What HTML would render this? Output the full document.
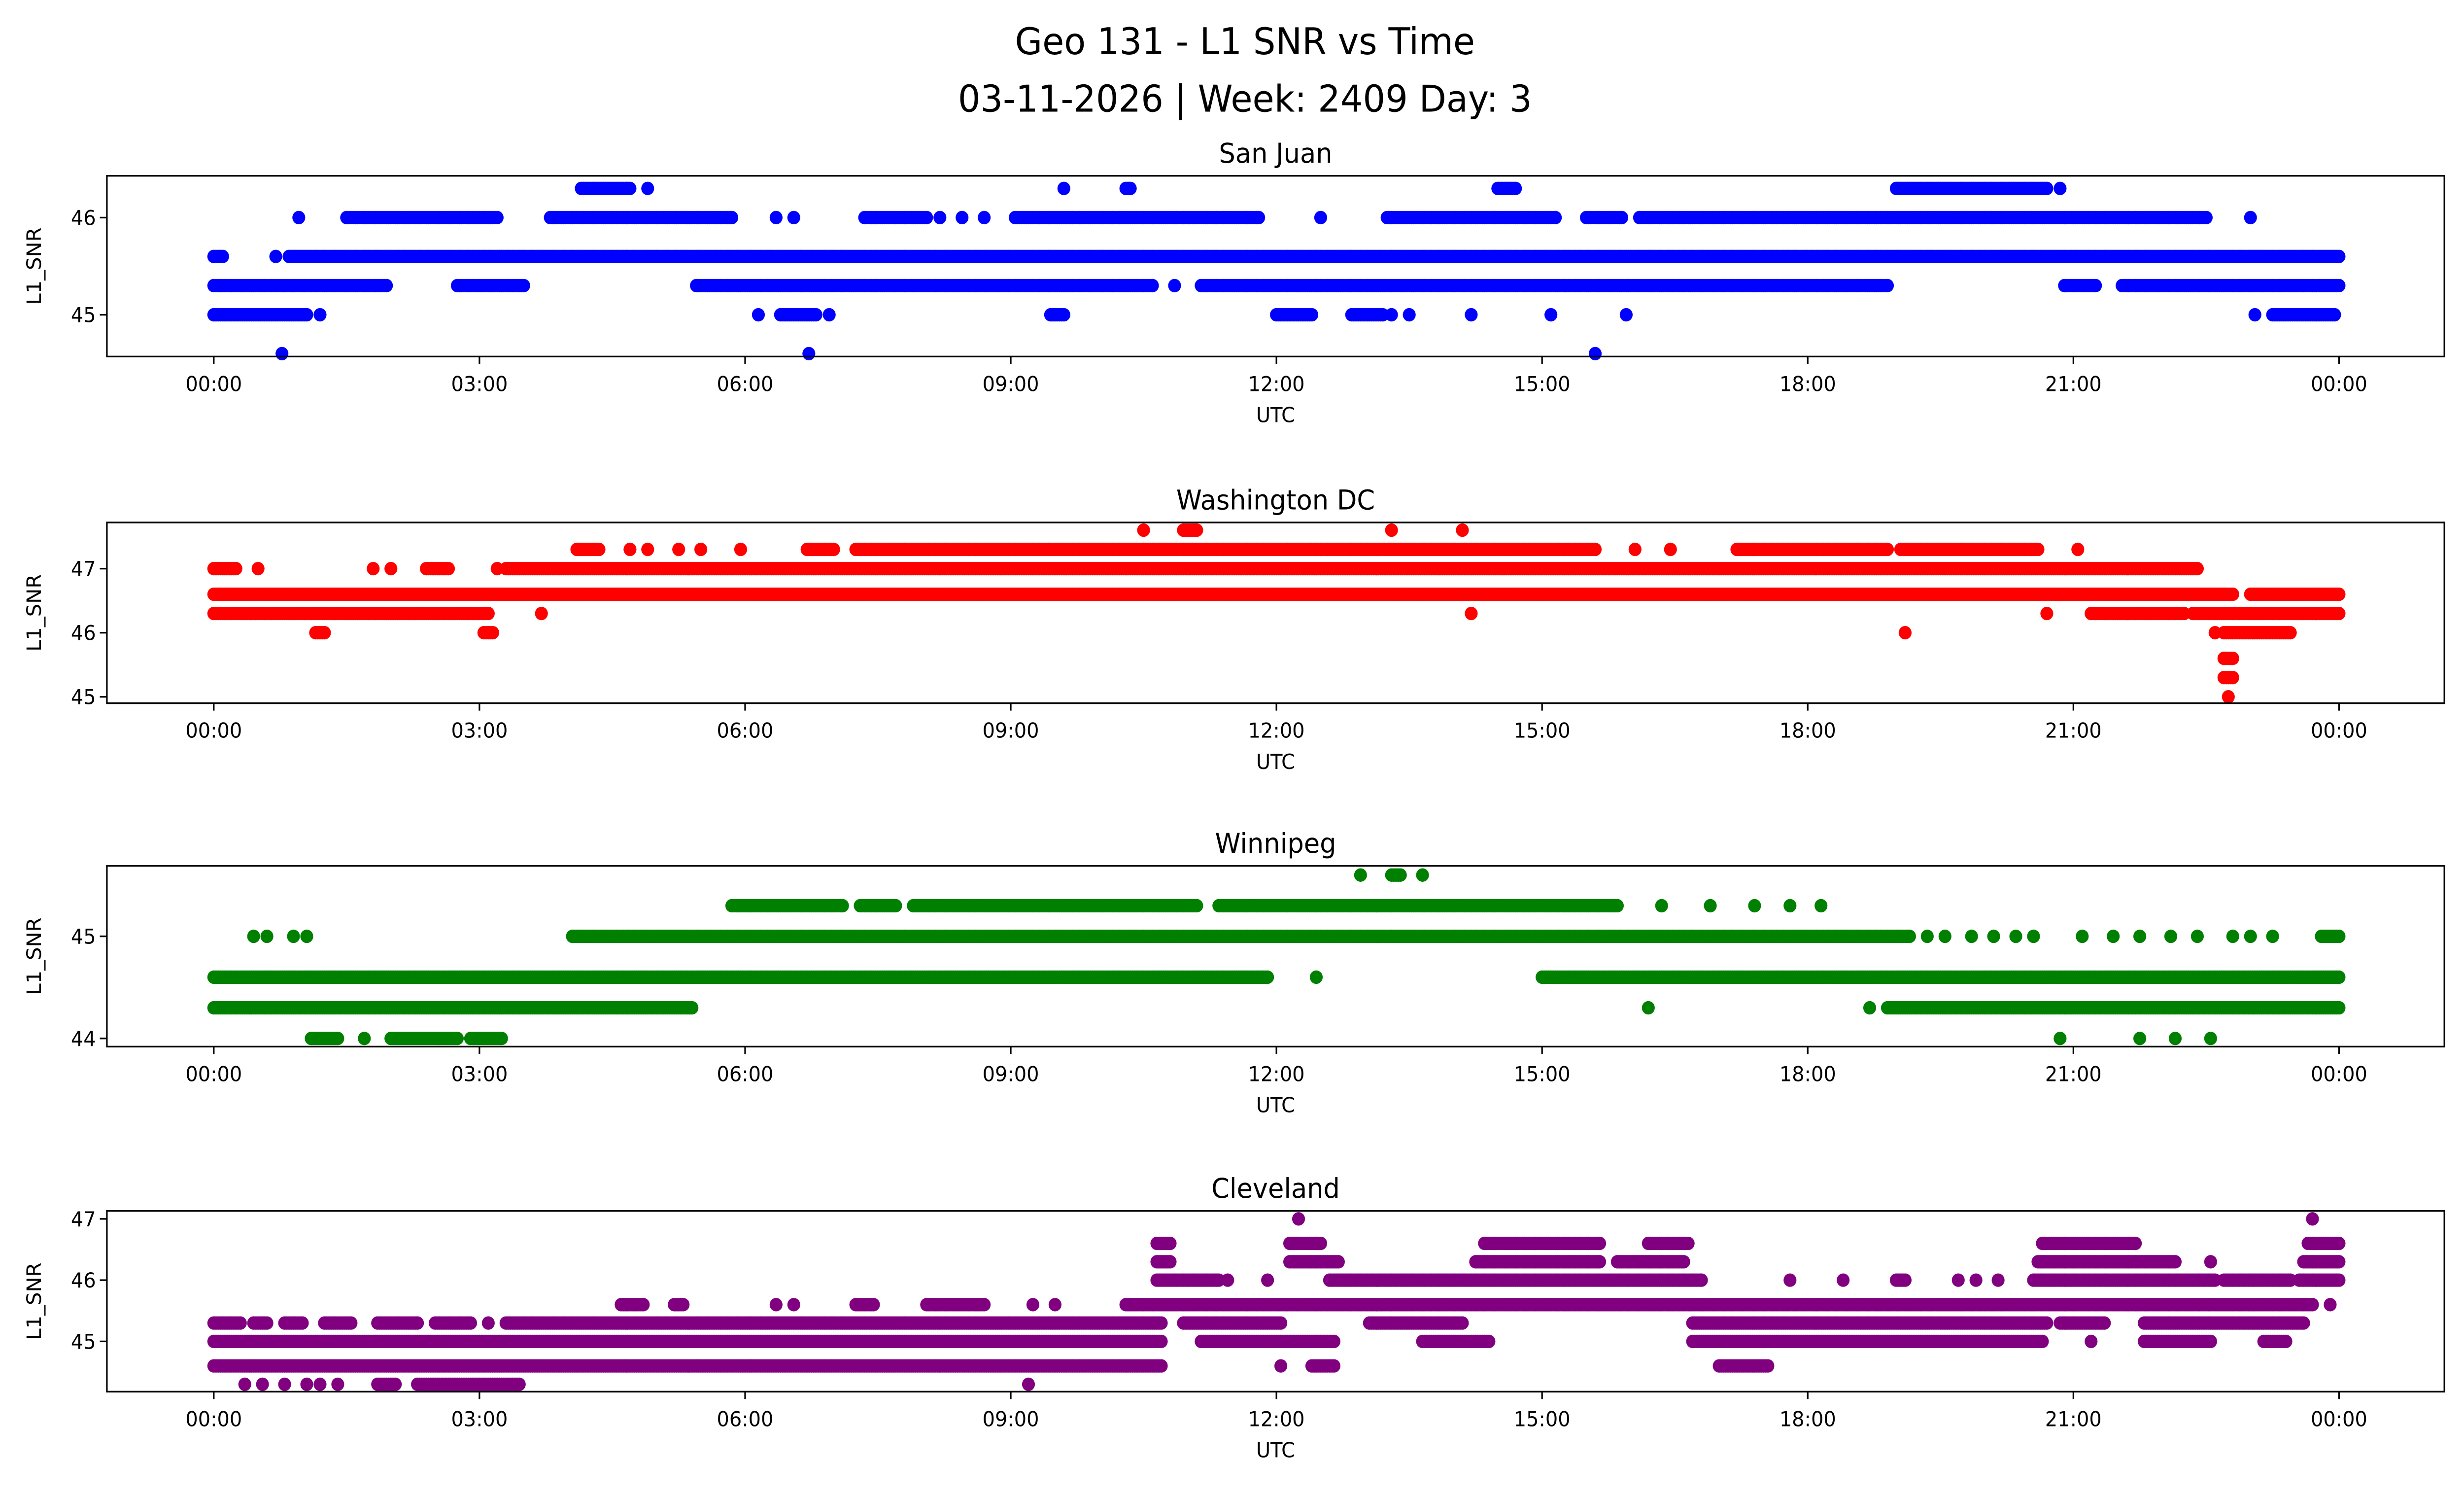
<!DOCTYPE html>
<html><head><meta charset="utf-8"><style>html,body{margin:0;padding:0;background:#fff;overflow:hidden;width:100%;height:100%}svg{display:block;position:absolute;left:0;top:0;width:100vw;height:100vh}</style></head>
<body>
<svg id="chart" xmlns="http://www.w3.org/2000/svg" viewBox="0 0 1567.5 909.9" preserveAspectRatio="none" font-family="'DejaVu Sans','Liberation Sans',sans-serif">
<rect width="1567.5" height="909.9" fill="#fff"/>
<text x="792" y="33" font-size="22.5" text-anchor="middle">Geo 131 - L1 SNR vs Time</text>
<text x="792" y="68" font-size="22.5" text-anchor="middle">03-11-2026 | Week: 2409 Day: 3</text>
</svg>
<script>
const xTickLabels = ["00:00","03:00","06:00","09:00","12:00","15:00","18:00","21:00","00:00"];
const xTickHours = [0,3,6,9,12,15,18,21,24];
const panelNames = ["San Juan","Washington DC","Winnipeg","Cleveland"];
const panelColors = ["#0000ff","#ff0000","#008000","#800080"];
const sjLevels = [46.3,46.0,45.6,45.3,45.0,44.6];
const sjRanges = [
 [[4.15,4.7],[4.9,4.9],[9.6,9.6],[10.3,10.35],[14.5,14.7],[19.0,20.7],[20.85,20.85]],
 [[0.96,0.96],[1.5,3.2],[3.8,5.85],[6.35,6.35],[6.55,6.55],[7.35,8.05],[8.2,8.2],[8.45,8.45],[8.7,8.7],[9.05,11.8],[12.5,12.5],[13.25,15.15],[15.5,15.9],[16.1,22.5],[23.0,23.0]],
 [[0,0.1],[0.7,0.7],[0.85,24]],
 [[0,1.95],[2.75,3.5],[5.45,10.6],[10.85,10.85],[11.15,18.9],[20.9,21.25],[21.55,24]],
 [[0,1.05],[1.2,1.2],[6.15,6.15],[6.4,6.8],[6.95,6.95],[9.45,9.6],[12.0,12.4],[12.85,13.2],[13.3,13.3],[13.5,13.5],[14.2,14.2],[15.1,15.1],[15.95,15.95],[23.05,23.05],[23.25,23.95]],
 [[0.77,0.77],[6.72,6.72],[15.6,15.6]]
];
const dcLevels = [47.6,47.3,47.0,46.6,46.3,46.0,45.6,45.3,45.0];
const dcRanges = [
 [[10.5,10.5],[10.95,11.1],[13.3,13.3],[14.1,14.1]],
 [[4.1,4.35],[4.7,4.7],[4.9,4.9],[5.25,5.25],[5.5,5.5],[5.95,5.95],[6.7,7.0],[7.25,15.6],[16.05,16.05],[16.45,16.45],[17.2,18.9],[19.05,20.6],[21.05,21.05]],
 [[0,0.25],[0.5,0.5],[1.8,1.8],[2.0,2.0],[2.4,2.65],[3.2,3.2],[3.3,22.4]],
 [[0,22.8],[23.0,24]],
 [[0,3.1],[3.7,3.7],[14.2,14.2],[20.7,20.7],[21.2,22.25],[22.35,24]],
 [[1.15,1.25],[3.05,3.15],[19.1,19.1],[22.6,22.6],[22.7,23.45]],
 [[22.7,22.8]],
 [[22.7,22.8]],
 [[22.75,22.75]]
];
const wpLevels = [45.6,45.3,45.0,44.6,44.3,44.0];
const wpRanges = [
 [[12.95,12.95],[13.3,13.4],[13.65,13.65]],
 [[5.85,7.1],[7.3,7.7],[7.9,11.1],[11.35,15.85],[16.35,16.35],[16.9,16.9],[17.4,17.4],[17.8,17.8],[18.15,18.15]],
 [[0.45,0.45],[0.6,0.6],[0.9,0.9],[1.05,1.05],[4.05,19.15],[19.35,19.35],[19.55,19.55],[19.85,19.85],[20.1,20.1],[20.35,20.35],[20.55,20.55],[21.1,21.1],[21.45,21.45],[21.75,21.75],[22.1,22.1],[22.4,22.4],[22.8,22.8],[23.0,23.0],[23.25,23.25],[23.8,24]],
 [[0,11.9],[12.45,12.45],[15.0,24]],
 [[0,5.4],[16.2,16.2],[18.7,18.7],[18.9,24]],
 [[1.1,1.4],[1.7,1.7],[2.0,2.75],[2.9,3.25],[20.85,20.85],[21.75,21.75],[22.15,22.15],[22.55,22.55]]
];
const clLevels = [47.0,46.6,46.3,46.0,45.6,45.3,45.0,44.6,44.3];
const clRanges = [
 [[12.25,12.25],[23.7,23.7]],
 [[10.65,10.8],[12.15,12.5],[14.35,15.65],[16.2,16.65],[20.65,21.7],[23.65,24]],
 [[10.65,10.8],[12.15,12.7],[14.25,15.65],[15.85,16.6],[20.6,22.15],[22.55,22.55],[23.6,24]],
 [[10.65,11.35],[11.45,11.45],[11.9,11.9],[12.6,16.8],[17.8,17.8],[18.4,18.4],[19.0,19.1],[19.7,19.7],[19.9,19.9],[20.15,20.15],[20.55,22.6],[22.7,23.45],[23.55,24]],
 [[4.6,4.85],[5.2,5.3],[6.35,6.35],[6.55,6.55],[7.25,7.45],[8.05,8.7],[9.25,9.25],[9.5,9.5],[10.3,23.7],[23.9,23.9]],
 [[0,0.3],[0.45,0.6],[0.8,1.0],[1.25,1.55],[1.85,2.3],[2.5,2.9],[3.1,3.1],[3.3,10.7],[10.95,12.05],[13.05,14.1],[16.7,20.7],[20.85,21.35],[21.8,23.6]],
 [[0,10.7],[11.15,12.65],[13.65,14.4],[16.7,20.65],[21.2,21.2],[21.8,22.55],[23.15,23.4]],
 [[0,10.7],[12.05,12.05],[12.4,12.65],[17.0,17.55]],
 [[0.35,0.35],[0.55,0.55],[0.8,0.8],[1.05,1.05],[1.2,1.2],[1.4,1.4],[1.85,2.05],[2.3,3.45],[9.2,9.2]]
];
const yTicks = [[45,46],[45,46,47],[44,45],[45,46,47]];
const yLims = [[44.57,46.43],[44.9,47.72],[43.92,45.69],[44.18,47.13]];
const allLevels = [sjLevels,dcLevels,wpLevels,clLevels];
const allRanges = [sjRanges,dcRanges,wpRanges,clRanges];

const NS = "http://www.w3.org/2000/svg";
const svg = document.getElementById('chart');
const L = 68, R = 1555, X0 = 136, X1 = 1488, H = 110;
const tops = [107,318,527,737];
function xScale(h){ return X0 + h*(X1-X0)/24; }
function mk(tag, attrs, parent){ const e=document.createElementNS(NS,tag); for(const k in attrs) e.setAttribute(k,attrs[k]); (parent||svg).appendChild(e); return e; }

for(let p=0;p<4;p++){
  const top=tops[p], bot=top+H, lim=yLims[p];
  const yScale = v => bot - (v-lim[0])/(lim[1]-lim[0])*H;
  const g = mk('g',{});
  
  
  const t = mk('text',{x:(L+R)/2,y:top-8,'font-size':16.5,'text-anchor':'middle'},g);
  t.textContent = panelNames[p];
  
  
  const pts = mk('g',{fill:panelColors[p]},g);
  
  
  const lv = allLevels[p], rg = allRanges[p];
  for(let i=0;i<lv.length;i++){
    const cy = yScale(lv[i]);
    for(const r of rg[i]){
      for(let h=r[0]; h<=r[1]+1e-9; h+=0.025){
        const c = mk('circle',{cx:xScale(h).toFixed(2),cy:cy.toFixed(2),r:4.1},pts);
        
        
      }
    }
  }
  const frame = mk('rect',{x:L,y:top,width:R-L,height:H,fill:'none',stroke:'#000','stroke-width':1},g);
  
  
  for(let i=0;i<xTickHours.length;i++){
    const x=xScale(xTickHours[i]);
    mk('line',{x1:x,x2:x,y1:bot,y2:bot+4.5,stroke:'#000','stroke-width':1},g);
    const tl = mk('text',{x:x,y:bot+21,'font-size':12.5,'text-anchor':'middle'},g);
    tl.textContent = xTickLabels[i];
    
    
  }
  for(const v of yTicks[p]){
    const y=yScale(v);
    mk('line',{x1:L-4.5,x2:L,y1:y,y2:y,stroke:'#000','stroke-width':1},g);
    const yl = mk('text',{x:L-7,y:y+4.5,'font-size':12.5,'text-anchor':'end'},g);
    yl.textContent = String(v);
    
    
  }
  const xl = mk('text',{x:(L+R)/2,y:bot+40,'font-size':12.5,'text-anchor':'middle'},g);
  xl.textContent = 'UTC';
  
  
  const cyM = top+H/2;
  const ylab = mk('text',{x:26,y:cyM,'font-size':12.5,'text-anchor':'middle',transform:'rotate(-90 26 '+cyM+')'},g);
  ylab.textContent = 'L1_SNR';
  
  
}
</script>
</body></html>
